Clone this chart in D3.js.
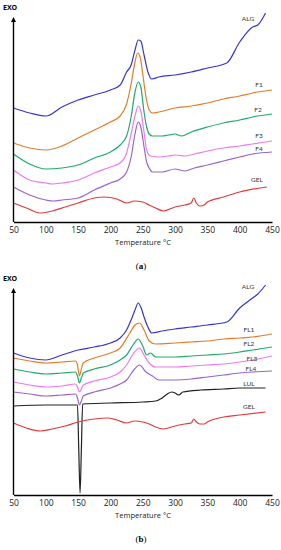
<!DOCTYPE html>
<html>
<head>
<meta charset="utf-8">
<script src="https://cdn.jsdelivr.net/npm/d3@7"></script>
<style>
  body { margin: 0; background: #fff; }
  svg { display: block; }
  .tick text { font-family: "Open Sans", sans-serif; }
</style>
</head>
<body>
<svg class="chart"></svg>
<script>
// temperature ticks, shared by both panels
var tempTicks = [50, 100, 150, 200, 250, 300, 350, 400, 450];

// panel (a) : [temperature, heat flow (a.u.)]
var algA = [[50,114],[75,109],[100,106],[125,115],[150,122],[175,127],[200,132],[215,137],[225,150],[232,157],[238,172],[243,182],[247,181],[252,167],[258,150],[264,143],[275,145],[300,147],[325,150],[350,154],[380,159],[400,180],[420,195],[428,197],[440,209]];
var f1A = [[50,79],[75,74],[100,72],[125,76],[150,84],[175,92],[200,100],[215,106],[225,118],[232,138],[238,160],[242,169],[246,165],[250,148],[255,125],[260,112],[265,109],[275,110],[300,114],[325,116],[350,119],[375,123],[400,126],[420,129],[450,132]];
var f2A = [[50,68],[75,58],[100,53],[125,54],[150,57],[175,64],[200,70],[215,77],[225,86],[232,105],[238,130],[243,140],[247,135],[252,110],[256,95],[260,88],[265,86],[280,86],[290,87],[300,88],[310,86],[325,90],[350,95],[375,99],[400,102],[420,105],[450,108]];
var f3A = [[50,52],[75,42],[100,39],[110,38],[125,39],[150,42],[175,49],[200,55],[215,59],[225,69],[232,88],[238,106],[243,116],[247,111],[252,90],[256,72],[262,66],[275,65],[290,66],[300,67],[315,66],[330,68],[350,71],[375,74],[400,76],[420,78],[450,81]];
var f4A = [[50,35],[75,27],[100,22],[112,21],[125,22],[150,24],[175,32],[200,39],[215,43],[225,50],[232,65],[238,88],[243,100],[247,95],[252,75],[256,60],[260,54],[265,50],[280,50],[300,53],[315,51],[330,54],[350,57],[375,61],[400,65],[420,68],[450,70]];
var gelA = [[50,19],[70,14],[91,9],[110,11],[130,15],[150,19],[175,24],[190,25],[210,23],[225,19],[237,21],[250,20],[260,17],[270,14],[282,11],[300,15],[315,17],[325,19],[329,24],[333,19],[338,16],[345,17],[350,20],[375,25],[400,30],[442,35]];

// panel (b)
var algB = [[50,142],[75,137],[100,135],[125,140],[150,145],[175,148],[200,152],[215,157],[225,165],[232,175],[238,185],[243,192],[247,188],[252,178],[258,168],[264,162],[280,164],[300,166],[325,168],[350,170],[380,173],[400,187],[420,197],[428,201],[440,210]];
var fl1B = [[50,137],[75,134],[100,132],[125,133],[146,134],[149,130],[152,119],[155,126],[158,132],[175,137],[200,142],[215,147],[230,162],[238,170],[245,172],[252,165],[260,154],[270,151],[300,152],[325,153],[350,154],[375,156],[400,157],[420,158],[450,161]];
var fl2B = [[50,126],[75,123],[100,121],[125,122],[146,123],[149,119],[152,112],[155,117],[158,122],[175,126],[200,130],[215,135],[225,140],[235,150],[243,156],[250,149],[256,140],[262,142],[270,138],[300,138],[325,139],[350,140],[375,141],[400,143],[420,145],[450,148]];
var fl3B = [[50,113],[75,110],[100,108],[125,109],[146,111],[149,108],[152,103],[155,106],[158,110],[175,114],[200,118],[215,123],[225,130],[235,141],[245,147],[252,140],[260,132],[270,128],[300,128],[325,129],[350,130],[375,131],[400,133],[420,135],[450,139]];
var fl4B = [[50,103],[75,101],[100,99],[125,100],[146,101],[149,97],[152,90],[155,94],[158,99],[175,103],[200,107],[215,111],[225,115],[235,124],[245,130],[255,123],[265,119],[275,115],[300,115],[325,116],[350,118],[375,120],[400,122],[420,123],[450,124]];
var lulB = [[50,89],[100,90],[149,90],[151,45],[153,2],[155,45],[157,91],[200,92],[250,93],[270,94],[280,97],[288,101],[295,103],[300,102],[306,100],[312,103],[340,105],[375,106],[400,107],[440,107]];
var gelB = [[50,72],[70,67],[92,64],[110,66],[130,69],[150,73],[175,76],[195,77],[210,75],[225,72],[237,74],[250,73],[260,71],[270,68],[282,66],[300,69],[315,71],[325,72],[329,76],[333,73],[338,71],[345,71],[350,73],[375,78],[400,80],[440,83]];

const width = 281, height = 550;

const svg = d3.select(".chart")
    .attr("width", width)
    .attr("height", height);

const x = d3.scaleLinear()
    .domain([50, 450])
    .range([13.5, 272]);

function drawPanel(opts) {
    const y = d3.scaleLinear()
        .domain([0, opts.top])
        .range([opts.axisY, opts.axisY - opts.top]);

    const g = svg.append("g");

    const ln = d3.line()
        .x(d => x(d[0]))
        .y(d => y(d[1]))
        .curve(d3.curveMonotoneX);

    opts.series.forEach(function(s) {
        g.append("path")
            .attr("d", ln(s.data))
            .attr("fill", "none")
            .attr("stroke", s.color)
            .attr("stroke-width", 1.2);
        g.append("text")
            .attr("x", s.lx)
            .attr("y", s.ly)
            .attr("text-anchor", "middle")
            .attr("dy", "0.35em")
            .style("font-family", "Lato, 'Open Sans', sans-serif")
            .style("font-size", "6.5px")
            .style("fill", "#333")
            .text(s.name);
    });

    // x axis
    const xAxis = d3.axisBottom(x)
        .tickValues(tempTicks)
        .tickSize(0)
        .tickPadding(5);

    const ax = g.append("g")
        .attr("transform", "translate(0," + opts.axisY + ")")
        .call(xAxis);
    ax.select(".domain").attr("stroke", "#000").attr("stroke-width", 1.4);
    ax.selectAll("text").style("font-size", "8.5px").style("fill", "#222");

    // y axis with arrow
    const arrowTip = opts.axisY - opts.arrow;
    g.append("line")
        .attr("x1", x(50)).attr("x2", x(50))
        .attr("y1", opts.axisY).attr("y2", arrowTip + 3)
        .attr("stroke", "#000").attr("stroke-width", 1.4);
    g.append("path")
        .attr("d", "M" + x(50) + "," + arrowTip + "l-2.5,5l5,0z")
        .attr("fill", "#000");

    g.append("text")
        .attr("x", 3)
        .attr("y", arrowTip - 7)
        .style("font-family", "'Open Sans', sans-serif")
        .style("font-weight", "bold")
        .style("font-size", "7px")
        .text("EXO");

    g.append("text")
        .attr("x", 143)
        .attr("y", opts.axisY + 23)
        .attr("text-anchor", "middle")
        .style("font-family", "'Open Sans', sans-serif")
        .style("font-size", "7.5px")
        .style("fill", "#222")
        .text("Temperature °C");

    const cap = g.append("text")
        .attr("x", 141)
        .attr("y", opts.axisY + 47)
        .attr("text-anchor", "middle")
        .style("font-family", "'Liberation Serif', serif")
        .style("font-size", "9px");
    cap.append("tspan").text("(");
    cap.append("tspan").style("font-weight", "bold").text(opts.tag);
    cap.append("tspan").text(")");
}

drawPanel({
    axisY: 222, top: 210, arrow: 205, tag: "a",
    series: [
        {name: "ALG", data: algA, color: "#3535d6", lx: 248, ly: 19},
        {name: "F1", data: f1A, color: "#e27d2b", lx: 259, ly: 85},
        {name: "F2", data: f2A, color: "#20aa6c", lx: 258, ly: 110},
        {name: "F3", data: f3A, color: "#ee7aee", lx: 259, ly: 136},
        {name: "F4", data: f4A, color: "#9966cc", lx: 259, ly: 149},
        {name: "GEL", data: gelA, color: "#e23a3a", lx: 257, ly: 180}
    ]
});

drawPanel({
    axisY: 495, top: 212, arrow: 207, tag: "b",
    series: [
        {name: "ALG", data: algB, color: "#3535d6", lx: 248, ly: 287},
        {name: "FL1", data: fl1B, color: "#e27d2b", lx: 249, ly: 330},
        {name: "FL2", data: fl2B, color: "#20aa6c", lx: 249, ly: 344},
        {name: "FL3", data: fl3B, color: "#ee7aee", lx: 252, ly: 359},
        {name: "FL4", data: fl4B, color: "#9966cc", lx: 251, ly: 369},
        {name: "LUL", data: lulB, color: "#222", lx: 249, ly: 384},
        {name: "GEL", data: gelB, color: "#e23a3a", lx: 249, ly: 407}
    ]
});
</script>
</body>
</html>
